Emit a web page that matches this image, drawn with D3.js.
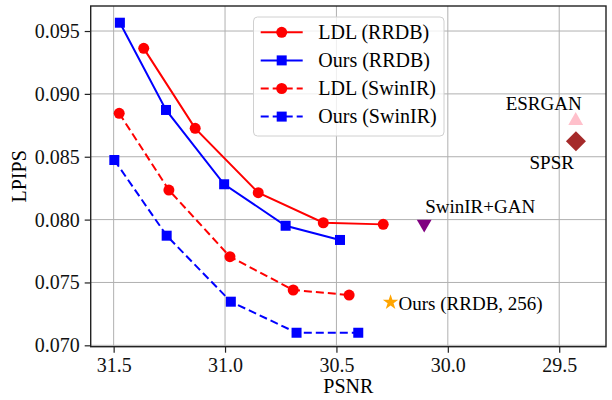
<!DOCTYPE html>
<html lang="en">
  <head>
    <meta charset="utf-8">
    <title>PSNR vs LPIPS</title>
    <script type="text/javascript" src="https://cdn.jsdelivr.net/npm/d3@7/dist/d3.min.js"></script>
    <style type="text/css">
      body { margin: 0; background: #fff; }
    </style>
  </head>
  <body>
    <script type="text/javascript">

      //Width and height
      var w = 612;
      var h = 400;
      var serif = "'Liberation Serif', 'Times New Roman', Times, 'DejaVu Serif', serif";

      //Curve data: PSNR and LPIPS
      var ldlRrdbPsnr  = [31.365, 31.134, 30.851, 30.559, 30.290];
      var ldlRrdbLpips = [0.09362, 0.08726, 0.08214, 0.07975, 0.07962];

      var oursRrdbPsnr  = [31.472, 31.265, 31.004, 30.728, 30.484];
      var oursRrdbLpips = [0.09566, 0.08872, 0.08281, 0.07951, 0.07838];

      var ldlSwinPsnr  = [31.475, 31.252, 30.978, 30.694, 30.443];
      var ldlSwinLpips = [0.08845, 0.08235, 0.07705, 0.07440, 0.07400];

      var oursSwinPsnr  = [31.497, 31.262, 30.974, 30.679, 30.402];
      var oursSwinLpips = [0.08474, 0.07872, 0.07347, 0.07100, 0.07100];

      var seriesNames = ["LDL (RRDB)", "Ours (RRDB)", "LDL (SwinIR)", "Ours (SwinIR)"];

      //Single methods
      var pointNames = ["SwinIR+GAN", "Ours (RRDB, 256)", "ESRGAN", "SPSR"];
      var pointPsnr  = [30.106, 30.257, 29.426, 29.425];
      var pointLpips = [0.07965, 0.07342, 0.08787, 0.08623];

      //Tick labels
      var xTicks = [31.5, 31.0, 30.5, 30.0, 29.5];
      var yTicks = [0.070, 0.075, 0.080, 0.085, 0.090, 0.095];

      var mLeft = 90.7, mRight = 606, mTop = 6, mBottom = 346.7;

      var xScale = d3.scaleLinear().domain([31.603, 29.29]).range([mLeft, mRight]);
      var yScale = d3.scaleLinear().domain([0.06989, 0.09699]).range([mBottom, mTop]);

      var svg = d3.select("body").append("svg")
                  .attr("width", w)
                  .attr("height", h)
                  .style("font-family", serif);

      //Grid
      svg.append("g").selectAll("line").data(xTicks).enter().append("line")
         .attr("x1", function(d) { return xScale(d); })
         .attr("x2", function(d) { return xScale(d); })
         .attr("y1", mTop).attr("y2", mBottom)
         .attr("stroke", "#b0b0b0").attr("stroke-width", 1);
      svg.append("g").selectAll("line").data(yTicks).enter().append("line")
         .attr("y1", function(d) { return yScale(d); })
         .attr("y2", function(d) { return yScale(d); })
         .attr("x1", mLeft).attr("x2", mRight)
         .attr("stroke", "#b0b0b0").attr("stroke-width", 1);

      //Axes
      var xAxis = d3.axisBottom(xScale).tickValues(xTicks).tickFormat(d3.format(".1f")).tickSize(6).tickPadding(5);
      var yAxis = d3.axisLeft(yScale).tickValues(yTicks).tickFormat(d3.format(".3f")).tickSize(6).tickPadding(5);

      var gx = svg.append("g").attr("transform", "translate(0," + mBottom + ")").call(xAxis);
      var gy = svg.append("g").attr("transform", "translate(" + mLeft + ",0)").call(yAxis);
      [gx, gy].forEach(function(g) {
        g.attr("font-family", serif).attr("font-size", 20);
        g.select(".domain").remove();
        g.selectAll("line").attr("stroke", "#222").attr("stroke-width", 1.2);
        g.selectAll("text").attr("fill", "#111");
      });

      //Frame
      svg.append("rect")
         .attr("x", mLeft).attr("y", mTop)
         .attr("width", mRight - mLeft).attr("height", mBottom - mTop)
         .attr("fill", "none").attr("stroke", "#222").attr("stroke-width", 1.4);

      //Axis labels
      svg.append("text")
         .attr("x", (mLeft + mRight) / 2).attr("y", 393)
         .attr("text-anchor", "middle").attr("font-size", 20)
         .text("PSNR");
      svg.append("text")
         .attr("transform", "translate(26," + ((mTop + mBottom) / 2) + ") rotate(-90)")
         .attr("text-anchor", "middle").attr("font-size", 20)
         .text("LPIPS");

      //Curves
      var curves = [
        { x: ldlRrdbPsnr, y: ldlRrdbLpips, color: "#ff0000", dash: null, marker: "circle" },
        { x: oursRrdbPsnr, y: oursRrdbLpips, color: "#0000ff", dash: null, marker: "square" },
        { x: ldlSwinPsnr, y: ldlSwinLpips, color: "#ff0000", dash: "8,4", marker: "circle" },
        { x: oursSwinPsnr, y: oursSwinLpips, color: "#0000ff", dash: "8,4", marker: "square" }
      ];

      var line = d3.line()
                   .x(function(d) { return xScale(d[0]); })
                   .y(function(d) { return yScale(d[1]); });

      function drawMarker(g, type, color, cx, cy) {
        if (type === "circle") {
          g.append("circle").attr("cx", cx).attr("cy", cy).attr("r", 5.5).attr("fill", color);
        } else {
          g.append("rect").attr("x", cx - 5).attr("y", cy - 5).attr("width", 10).attr("height", 10).attr("fill", color);
        }
      }

      curves.forEach(function(c) {
        var pts = d3.zip(c.x, c.y);
        svg.append("path")
           .datum(pts)
           .attr("d", line)
           .attr("fill", "none")
           .attr("stroke", c.color)
           .attr("stroke-width", 2)
           .attr("stroke-dasharray", c.dash);
        var g = svg.append("g");
        pts.forEach(function(p) {
          drawMarker(g, c.marker, c.color, xScale(p[0]), yScale(p[1]));
        });
      });

      //Single points
      var sym = [
        { s: d3.symbol().type(d3.symbolTriangle).size(95), rot: 180, color: "#800080" },
        { s: d3.symbol().type(d3.symbolStar).size(75), rot: 0, color: "#ffa500" },
        { s: d3.symbol().type(d3.symbolTriangle).size(95), rot: 0, color: "#ffc0cb" },
        { s: d3.symbol().type(d3.symbolSquare).size(200), rot: 45, color: "#a52a2a" }
      ];
      var labelPos = [
        { dx: 1, dy: -11, anchor: "start" },
        { dx: 8, dy: 8, anchor: "start" },
        { dx: 6, dy: -11, anchor: "end" },
        { dx: -2, dy: 28, anchor: "end" }
      ];

      pointNames.forEach(function(name, i) {
        var px = xScale(pointPsnr[i]), py = yScale(pointLpips[i]);
        svg.append("path")
           .attr("d", sym[i].s())
           .attr("transform", "translate(" + px + "," + py + ") rotate(" + sym[i].rot + ")")
           .attr("fill", sym[i].color);
        svg.append("text")
           .attr("x", px + labelPos[i].dx)
           .attr("y", py + labelPos[i].dy)
           .attr("text-anchor", labelPos[i].anchor)
           .attr("font-size", 19)
           .text(name);
      });

      //Legend
      var legend = svg.append("g");
      legend.append("rect")
            .attr("x", 253.5).attr("y", 17).attr("width", 190.5).attr("height", 119)
            .attr("rx", 4)
            .attr("fill", "#fff").attr("fill-opacity", 0.8)
            .attr("stroke", "#d0d0d0").attr("stroke-width", 1);
      seriesNames.forEach(function(name, i) {
        var ly = 32.3 + i * 28.1;
        var c = curves[i];
        legend.append("line")
              .attr("x1", 260.7).attr("x2", 302.7)
              .attr("y1", ly).attr("y2", ly)
              .attr("stroke", c.color).attr("stroke-width", 2)
              .attr("stroke-dasharray", c.dash);
        drawMarker(legend, c.marker, c.color, 281.7, ly);
        legend.append("text")
              .attr("x", 318.3).attr("y", ly + 6.5)
              .attr("font-size", 20)
              .text(name);
      });

    </script>
  </body>
</html>
